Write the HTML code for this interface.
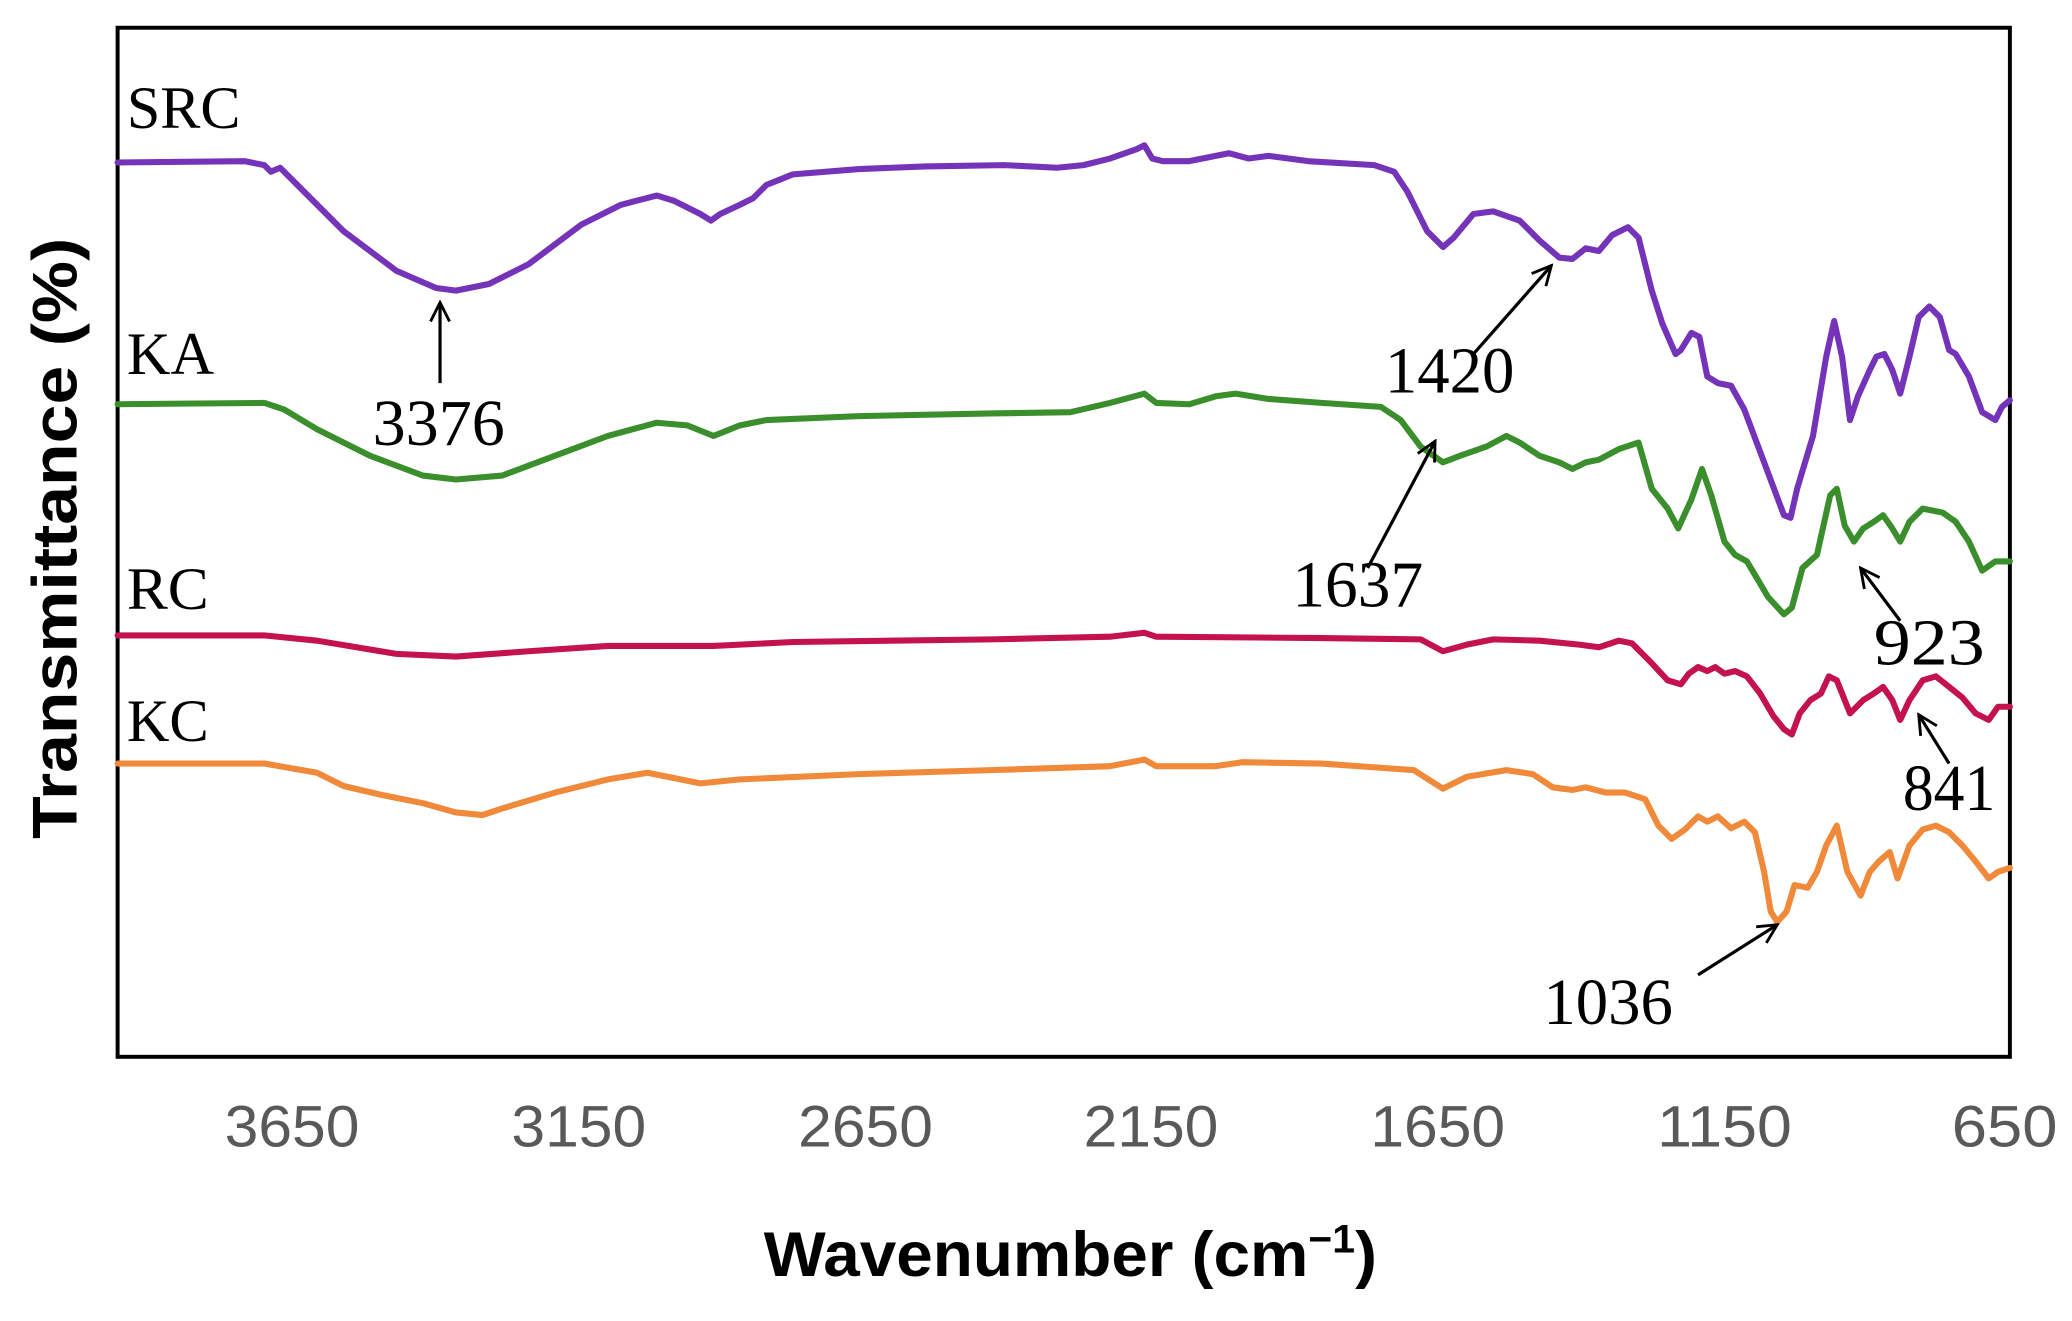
<!DOCTYPE html>
<html><head><meta charset="utf-8"><style>
html,body{margin:0;padding:0;background:#fff;}
svg{display:block;}
</style></head><body>
<svg width="2072" height="1321" viewBox="0 0 1568 1000" preserveAspectRatio="none" xmlns="http://www.w3.org/2000/svg">
<defs><marker id="ah" viewBox="0 0 20 20" refX="18" refY="10" markerWidth="18" markerHeight="18" markerUnits="userSpaceOnUse" orient="auto"><path d="M2,2 L18,10 L2,18" fill="none" stroke="#000" stroke-width="2.4"/></marker></defs>
<rect x="89" y="21" width="1432" height="779" fill="none" stroke="#000" stroke-width="3"/>
<g fill="none" stroke-width="4.6" stroke-linejoin="round" stroke-linecap="round">
<polyline stroke="#7433B8" points="89,123 185,122 200,125 205,130 212,127 220,135 260,175 300,205 330,218 345,220 370,215 400,200 440,170 470,155 497,148 510,152 530,162 538,167 545,162 560,155 570,150 580,140 600,132 650,128 700,126 760,125 800,127 820,125 840,120 860,113 866,110 872,120 880,122 900,122 920,118 930,116 945,120 960,118 990,122 1040,125 1055,130 1065,145 1080,175 1092,187 1100,180 1115,162 1130,160 1150,167 1165,182 1180,195 1190,196 1200,188 1210,190 1220,178 1232,172 1240,180 1250,220 1258,245 1268,268 1272,265 1280,252 1286,255 1292,285 1300,290 1310,292 1320,310 1335,350 1350,390 1355,392 1360,370 1372,330 1382,270 1388,243 1394,270 1400,318 1406,300 1415,280 1420,270 1426,268 1432,280 1438,298 1445,270 1452,240 1460,232 1468,240 1475,265 1480,268 1490,285 1500,312 1510,318 1515,308 1521,303"/>
<polyline stroke="#3A8F2C" points="89,306 200,305 215,310 240,325 280,345 320,360 345,363 380,360 420,345 460,330 497,320 520,322 540,330 560,322 580,318 650,315 750,313 810,312 840,305 866,298 875,305 900,306 920,300 935,298 960,302 1000,305 1045,308 1060,318 1075,338 1092,350 1105,345 1125,338 1140,330 1150,335 1165,345 1180,350 1190,355 1200,350 1210,348 1225,340 1240,335 1250,370 1262,385 1270,400 1280,378 1288,355 1295,375 1305,410 1313,420 1322,425 1328,435 1338,452 1350,465 1356,460 1364,430 1375,420 1385,375 1390,370 1396,398 1403,410 1410,400 1418,395 1425,390 1432,400 1438,410 1445,395 1455,385 1470,388 1480,395 1490,410 1500,432 1510,425 1521,425"/>
<polyline stroke="#C4124E" points="89,481 200,481 240,485 300,495 345,497 400,493 460,489 540,489 600,486 750,484 840,482 866,479 875,482 1000,483 1075,484 1092,493 1110,488 1130,484 1165,485 1195,488 1210,490 1225,485 1235,487 1248,500 1262,515 1272,518 1278,510 1285,505 1292,508 1298,505 1305,510 1313,508 1322,512 1332,525 1342,542 1350,552 1356,556 1362,540 1370,530 1378,525 1384,512 1390,515 1400,540 1410,530 1418,525 1425,520 1432,530 1438,545 1445,530 1455,515 1465,512 1475,520 1485,528 1495,540 1505,545 1512,535 1521,535"/>
<polyline stroke="#F0893A" points="89,578 200,578 240,585 260,595 290,602 320,608 345,615 365,617 380,612 420,600 460,590 490,585 530,593 560,590 650,586 750,583 840,580 866,575 875,580 920,580 940,577 1000,578 1070,583 1092,597 1110,588 1140,583 1160,586 1175,596 1190,598 1200,596 1215,600 1230,600 1245,605 1255,625 1265,635 1275,628 1285,618 1292,622 1300,618 1310,627 1320,622 1328,630 1335,660 1340,690 1345,698 1352,690 1358,670 1368,672 1375,660 1382,640 1390,625 1398,660 1408,678 1415,660 1422,652 1430,645 1436,665 1445,640 1455,628 1465,625 1475,630 1485,640 1495,652 1505,665 1512,660 1521,657"/>
</g>
<g stroke="#000" stroke-width="2.4" fill="none" marker-end="url(#ah)">
<line x1="333" y1="290" x2="333" y2="229"/>
<line x1="1115" y1="268" x2="1174" y2="201"/>
<line x1="1035" y1="430" x2="1086" y2="334"/>
<line x1="1438" y1="470" x2="1408" y2="430"/>
<line x1="1475" y1="578" x2="1452" y2="541"/>
<line x1="1285" y1="738" x2="1345" y2="700"/>
</g>
<g font-family="Liberation Serif, serif" font-size="50" fill="#000" lengthAdjust="spacingAndGlyphs">
<text x="96" y="97" font-size="46" textLength="86" lengthAdjust="spacingAndGlyphs">SRC</text>
<text x="96" y="283" font-size="46" textLength="66" lengthAdjust="spacingAndGlyphs">KA</text>
<text x="96" y="461" font-size="46" textLength="62" lengthAdjust="spacingAndGlyphs">RC</text>
<text x="96" y="561" font-size="46" textLength="62" lengthAdjust="spacingAndGlyphs">KC</text>
<text x="282" y="337" textLength="100" lengthAdjust="spacingAndGlyphs">3376</text>
<text x="1048" y="297" textLength="98" lengthAdjust="spacingAndGlyphs">1420</text>
<text x="978" y="459" textLength="99" lengthAdjust="spacingAndGlyphs">1637</text>
<text x="1418" y="503" textLength="84" lengthAdjust="spacingAndGlyphs">923</text>
<text x="1440" y="613" textLength="70" lengthAdjust="spacingAndGlyphs">841</text>
<text x="1168" y="775" textLength="98" lengthAdjust="spacingAndGlyphs">1036</text>
</g>
<g font-family="Liberation Sans, sans-serif" font-size="44" fill="#595959">
<text x="170" y="868" textLength="102" lengthAdjust="spacingAndGlyphs">3650</text>
<text x="387" y="868" textLength="102" lengthAdjust="spacingAndGlyphs">3150</text>
<text x="604" y="868" textLength="102" lengthAdjust="spacingAndGlyphs">2650</text>
<text x="820" y="868" textLength="102" lengthAdjust="spacingAndGlyphs">2150</text>
<text x="1037" y="868" textLength="102" lengthAdjust="spacingAndGlyphs">1650</text>
<text x="1254" y="868" textLength="102" lengthAdjust="spacingAndGlyphs">1150</text>
<text x="1477" y="868" textLength="80" lengthAdjust="spacingAndGlyphs">650</text>
</g>
<text x="578" y="966" font-family="Liberation Sans, sans-serif" font-weight="bold" font-size="48" fill="#000" textLength="464" lengthAdjust="spacingAndGlyphs">Wavenumber (cm<tspan font-size="30" dy="-18">−1</tspan><tspan dy="18">)</tspan></text>
<text transform="translate(58,635) rotate(-90)" font-family="Liberation Sans, sans-serif" font-weight="bold" font-size="48" fill="#000" textLength="455" lengthAdjust="spacingAndGlyphs">Transmittance (%)</text>
</svg>
</body></html>
